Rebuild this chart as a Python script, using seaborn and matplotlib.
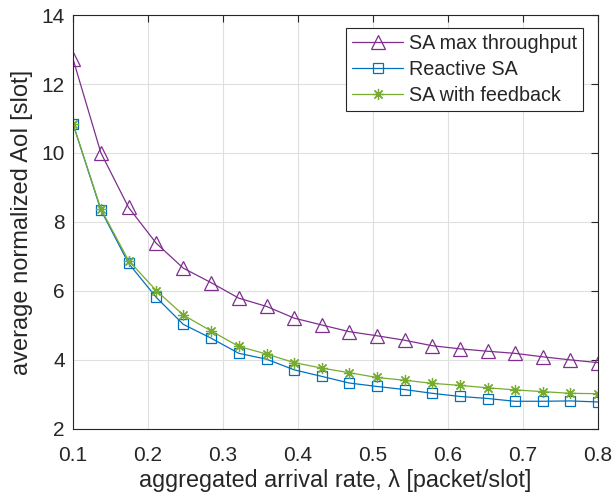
import matplotlib.pyplot as plt
import seaborn as sns

# arrival rates (packet/slot)
rate = [0.1, 0.137, 0.174, 0.211, 0.247, 0.284, 0.321, 0.358, 0.395, 0.432,
        0.468, 0.505, 0.542, 0.579, 0.616, 0.653, 0.689, 0.726, 0.763, 0.8]

# average normalized AoI [slot]
aoi_max_tp = [12.72, 10.01, 8.42, 7.38, 6.66, 6.24, 5.79, 5.55, 5.21, 5.01,
              4.82, 4.70, 4.57, 4.41, 4.32, 4.25, 4.19, 4.09, 4.00, 3.92]
aoi_reactive = [10.84, 8.35, 6.80, 5.81, 5.03, 4.63, 4.19, 4.02, 3.71, 3.52,
                3.33, 3.23, 3.14, 3.03, 2.94, 2.88, 2.80, 2.80, 2.81, 2.78]
aoi_feedback = [10.84, 8.38, 6.88, 6.01, 5.30, 4.84, 4.39, 4.17, 3.92, 3.76,
                3.63, 3.49, 3.41, 3.32, 3.26, 3.19, 3.13, 3.08, 3.03, 3.02]

sns.set_style('whitegrid')
plt.rcParams['font.family'] = ['Liberation Sans', 'DejaVu Sans']

fig = plt.figure(figsize=(6.14, 5.01), dpi=100)
ax = fig.add_axes([0.119, 0.144, 0.855, 0.826])

sns.lineplot(x=rate, y=aoi_max_tp, ax=ax, color='#7E2F8E', marker='^', markersize=10,
             markerfacecolor='none', markeredgecolor='#7E2F8E', markeredgewidth=0.9,
             linewidth=0.9, label='SA max throughput')
sns.lineplot(x=rate, y=aoi_reactive, ax=ax, color='#0072BD', marker='s', markersize=7.5,
             markerfacecolor='none', markeredgecolor='#0072BD', markeredgewidth=0.9,
             linewidth=0.9, label='Reactive SA')
sns.lineplot(x=rate, y=aoi_feedback, ax=ax, color='#77AC30', marker=(8, 2, 0), markersize=8,
             markeredgecolor='#77AC30', markeredgewidth=0.9,
             linewidth=0.9, label='SA with feedback')

ax.set_xlim(0.1, 0.8)
ax.set_ylim(2, 14)
ax.set_xticks([0.1, 0.2, 0.3, 0.4, 0.5, 0.6, 0.7, 0.8])
ax.set_yticks([2, 4, 6, 8, 10, 12, 14])
ax.grid(True, color='#dfdfdf', linewidth=0.8)
for s in ax.spines.values():
    s.set_color('#262626')
    s.set_linewidth(0.8)
ax.tick_params(direction='in', length=5, width=0.8, top=True, right=True,
               labelsize=15, colors='#262626', pad=6)
ax.tick_params(axis='x', pad=12)
ax.set_xlabel('aggregated arrival rate, λ [packet/slot]', fontsize=16.8, color='#262626', labelpad=3)
ax.set_ylabel('average normalized AoI [slot]', fontsize=17, color='#262626', labelpad=6)

leg = ax.legend(loc='upper right', fontsize=14.2, frameon=True, fancybox=False,
                edgecolor='#262626', framealpha=1, borderpad=0.3, handlelength=2.6,
                handletextpad=0.3, labelspacing=0.36, borderaxespad=0,
                bbox_to_anchor=(0.972, 0.968))
leg.get_frame().set_linewidth(0.8)

fig.savefig('out.png', dpi=100)
